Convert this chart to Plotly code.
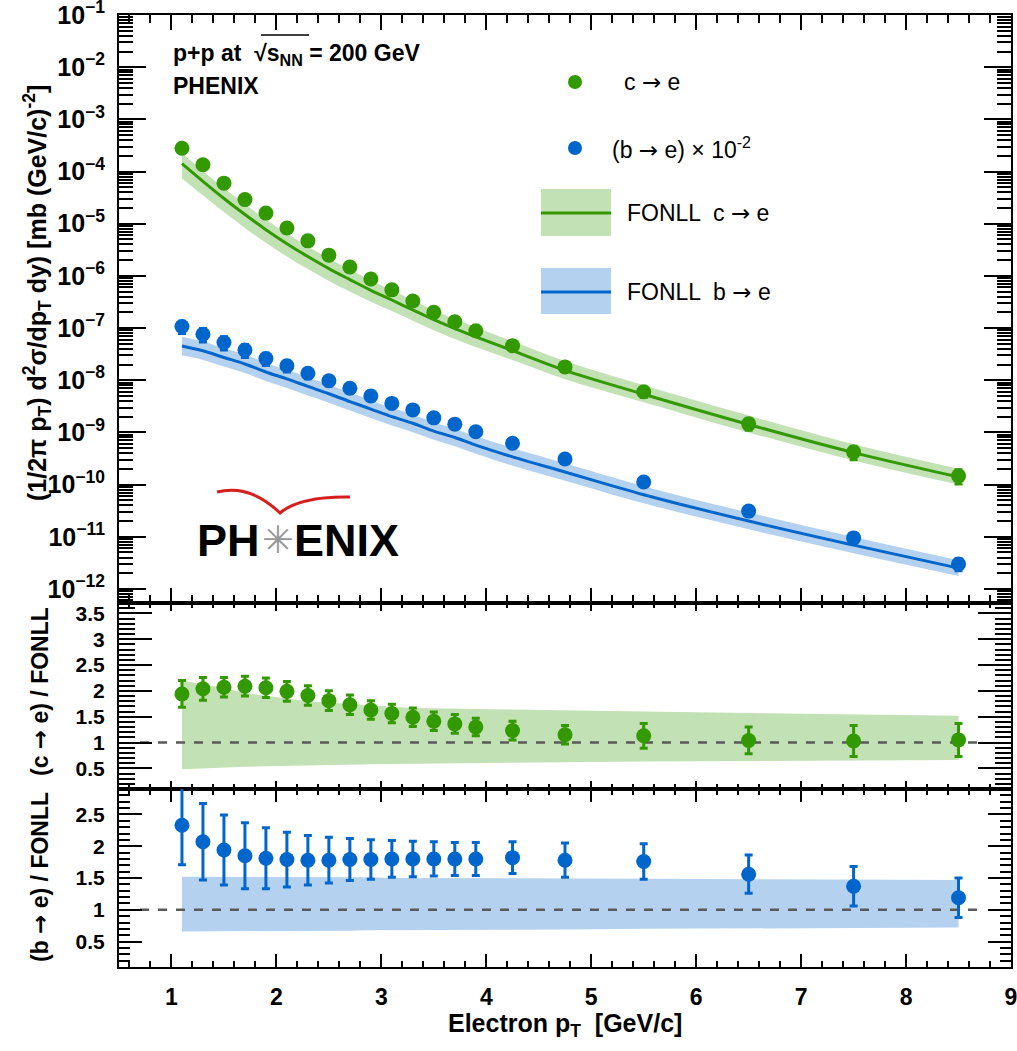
import numpy as np
import plotly.graph_objects as go

# ---------------- data ----------------
pt = [1.1, 1.3, 1.5, 1.7, 1.9, 2.1, 2.3, 2.5, 2.7, 2.9, 3.1, 3.3, 3.5, 3.7, 3.9,
      4.25, 4.75, 5.5, 6.5, 7.5, 8.5]

c_data = [2.8e-4, 1.35e-4, 6.0e-5, 2.9e-5, 1.6e-5, 8.3e-6, 4.7e-6, 2.5e-6, 1.48e-6,
          8.7e-7, 5.4e-7, 3.3e-7, 2.0e-7, 1.32e-7, 8.9e-8, 4.6e-8, 1.8e-8, 6.0e-9,
          1.46e-9, 4.2e-10, 1.47e-10]
b_data = [1.07e-7, 7.6e-8, 5.3e-8, 3.8e-8, 2.6e-8, 1.9e-8, 1.36e-8, 9.8e-9, 7.0e-9,
          5.0e-9, 3.6e-9, 2.7e-9, 1.9e-9, 1.44e-9, 1.03e-9, 6.2e-10, 3.1e-10,
          1.12e-10, 3.1e-11, 9.5e-12, 3.0e-12]

fonll_c = [1.42e-4, 6.5e-5, 3.05e-5, 1.5e-5, 7.7e-6, 4.15e-6, 2.35e-6, 1.38e-6, 8.5e-7,
           5.3e-7, 3.45e-7, 2.22e-7, 1.45e-7, 9.8e-8, 6.8e-8, 3.7e-8, 1.55e-8, 5.4e-9,
           1.42e-9, 4.1e-10, 1.4e-10]
fonll_c_hi = [2.25e-4, 1.03e-4, 4.8e-5, 2.37e-5, 1.21e-5, 6.5e-6, 3.68e-6, 2.15e-6,
              1.32e-6, 8.2e-7, 5.3e-7, 3.4e-7, 2.2e-7, 1.49e-7, 1.03e-7, 5.6e-8,
              2.33e-8, 8.0e-9, 2.1e-9, 5.9e-10, 2.0e-10]
fonll_c_lo = [7.4e-5, 3.5e-5, 1.67e-5, 8.3e-6, 4.3e-6, 2.35e-6, 1.35e-6, 8.0e-7,
              5.0e-7, 3.2e-7, 2.12e-7, 1.38e-7, 9.1e-8, 6.2e-8, 4.35e-8, 2.43e-8,
              1.05e-8, 3.8e-9, 1.0e-9, 2.9e-10, 1.0e-10]

fonll_b = [4.55e-8, 3.67e-8, 2.73e-8, 2.05e-8, 1.44e-8, 1.06e-8, 7.6e-9, 5.5e-9, 3.9e-9,
           2.8e-9, 2.0e-9, 1.5e-9, 1.06e-9, 8.0e-10, 5.7e-10, 3.4e-10, 1.74e-10,
           6.4e-11, 2.0e-11, 6.9e-12, 2.5e-12]
fonll_b_hi = [6.8e-8, 5.5e-8, 4.1e-8, 3.1e-8, 2.15e-8, 1.58e-8, 1.13e-8, 8.2e-9, 5.8e-9,
              4.15e-9, 2.96e-9, 2.2e-9, 1.56e-9, 1.18e-9, 8.4e-10, 5.0e-10, 2.55e-10,
              9.3e-11, 2.9e-11, 9.9e-12, 3.55e-12]
fonll_b_lo = [3.0e-8, 2.45e-8, 1.83e-8, 1.37e-8, 9.7e-9, 7.1e-9, 5.1e-9, 3.7e-9, 2.62e-9,
              1.89e-9, 1.35e-9, 1.01e-9, 7.2e-10, 5.4e-10, 3.9e-10, 2.3e-10, 1.19e-10,
              4.4e-11, 1.39e-11, 4.8e-12, 1.76e-12]

ratio_c = [1.94, 2.04, 2.07, 2.09, 2.06, 1.99, 1.91, 1.81, 1.73, 1.63, 1.56, 1.49, 1.41,
           1.36, 1.30, 1.23, 1.15, 1.13, 1.04, 1.03, 1.05]
ratio_c_err = [0.26, 0.22, 0.19, 0.19, 0.19, 0.19, 0.19, 0.19, 0.19, 0.18, 0.18, 0.18,
               0.18, 0.18, 0.17, 0.18, 0.18, 0.24, 0.26, 0.30, 0.32]
band_c_hi = [2.2, 2.13, 2.05, 1.96, 1.9, 1.85, 1.8, 1.77, 1.74, 1.71, 1.69, 1.67, 1.66,
             1.66, 1.65, 1.64, 1.62, 1.6, 1.57, 1.54, 1.52]
band_c_lo = [0.48, 0.5, 0.52, 0.53, 0.54, 0.55, 0.56, 0.57, 0.575, 0.58, 0.585, 0.59,
             0.595, 0.6, 0.605, 0.61, 0.62, 0.63, 0.64, 0.65, 0.66]

ratio_b = [2.33, 2.07, 1.94, 1.85, 1.81, 1.79, 1.78, 1.78, 1.79, 1.79, 1.80, 1.80, 1.80,
           1.80, 1.80, 1.82, 1.78, 1.76, 1.56, 1.37, 1.19]
ratio_b_err = [0.62, 0.60, 0.55, 0.52, 0.48, 0.43, 0.39, 0.36, 0.33, 0.31, 0.29, 0.28,
               0.27, 0.26, 0.26, 0.25, 0.27, 0.28, 0.30, 0.31, 0.31]
band_b_hi = [1.52, 1.52, 1.52, 1.52, 1.52, 1.51, 1.51, 1.51, 1.51, 1.51, 1.5, 1.5, 1.5,
             1.5, 1.5, 1.5, 1.49, 1.49, 1.48, 1.48, 1.47]
band_b_lo = [0.66, 0.66, 0.66, 0.66, 0.67, 0.67, 0.67, 0.67, 0.67, 0.68, 0.68, 0.68,
             0.68, 0.68, 0.69, 0.69, 0.69, 0.70, 0.71, 0.71, 0.72]

unity_x = [0.7, 8.7]
unity_y = [1, 1]

# ---------------- style ----------------
GREEN = "rgb(51,153,0)"
BLUE = "rgb(0,102,204)"
GREEN_BAND = "rgb(194,225,180)"
BLUE_BAND = "rgb(180,210,240)"
FONT = "Liberation Sans, Arial, Helvetica, sans-serif"
ARROW = "<span style='font-family:DejaVu Sans;font-weight:normal'>→</span>"
ARROW_B = "<span style='font-family:DejaVu Sans'>→</span>"

W, H = 1017, 1051
L, R, T, B = 119, 6, 15, 84
PW, PH = W - L - R, H - T - B


def px(x):
    return (x - L) / PW


def py(y):
    return (H - B - y) / PH


# top-panel error bars from relative ratio uncertainties
c_err_abs = (np.array(c_data) * np.array(ratio_c_err) / np.array(ratio_c)).tolist()
b_err_abs = (np.array(b_data) * np.array(ratio_b_err) / np.array(ratio_b)).tolist()

fig = go.Figure()


def band(x, lo, hi, color, xa, ya, shape="linear"):
    fig.add_trace(go.Scatter(x=x, y=lo, mode="lines", line=dict(width=0, color=color, shape=shape),
                             xaxis=xa, yaxis=ya, showlegend=False, hoverinfo="skip"))
    fig.add_trace(go.Scatter(x=x, y=hi, mode="lines", line=dict(width=0, color=color, shape=shape),
                             fill="tonexty", fillcolor=color, xaxis=xa, yaxis=ya,
                             showlegend=False, hoverinfo="skip"))


def points(x, y, err, color, xa, ya):
    fig.add_trace(go.Scatter(
        x=x, y=y, mode="markers", xaxis=xa, yaxis=ya, showlegend=False,
        marker=dict(color=color, size=15, line=dict(width=0)),
        error_y=dict(type="data", array=err, color=color, thickness=3, width=4)))


# top panel
band(pt, fonll_c_lo, fonll_c_hi, GREEN_BAND, "x", "y", "spline")
band(pt, fonll_b_lo, fonll_b_hi, BLUE_BAND, "x", "y", "spline")
fig.add_trace(go.Scatter(x=pt, y=fonll_c, mode="lines",
                         line=dict(color=GREEN, width=3, shape="spline"),
                         xaxis="x", yaxis="y", showlegend=False))
fig.add_trace(go.Scatter(x=pt, y=fonll_b, mode="lines",
                         line=dict(color=BLUE, width=3, shape="spline"),
                         xaxis="x", yaxis="y", showlegend=False))
points(pt, c_data, c_err_abs, GREEN, "x", "y")
points(pt, b_data, b_err_abs, BLUE, "x", "y")

# middle panel
band(pt, band_c_lo, band_c_hi, GREEN_BAND, "x2", "y2")
fig.add_trace(go.Scatter(x=unity_x, y=unity_y, mode="lines",
                         line=dict(color="rgb(90,90,90)", width=2.5, dash="dash"),
                         xaxis="x2", yaxis="y2", showlegend=False))
points(pt, ratio_c, ratio_c_err, GREEN, "x2", "y2")

# bottom panel
band(pt, band_b_lo, band_b_hi, BLUE_BAND, "x3", "y3")
fig.add_trace(go.Scatter(x=unity_x, y=unity_y, mode="lines",
                         line=dict(color="rgb(90,90,90)", width=2.5, dash="dash"),
                         xaxis="x3", yaxis="y3", showlegend=False))
points(pt, ratio_b, ratio_b_err, BLUE, "x3", "y3")

xtickfont = dict(family=FONT, size=23, color="black", weight="bold")

d_top = [py(603), 1]
d_mid = [py(789), py(603)]
d_bot = [0, py(789)]


def xaxis(anchor, dom_show, major, minor):
    return dict(anchor=anchor, domain=[0, 1], range=[0.5, 9], dtick=1, tick0=0,
                ticks="inside", ticklen=major, tickwidth=2, tickcolor="black",
                minor=dict(ticks="inside", ticklen=minor, tickwidth=1.5,
                           tickcolor="black", dtick=0.2, showgrid=False),
                showline=True, linecolor="black", linewidth=2, mirror="allticks",
                showgrid=False, zeroline=False, showticklabels=dom_show,
                tickfont=xtickfont, ticklabelstandoff=8, ticklabeloverflow="allow",
                automargin=False)


def yaxis(anchor, dom, rng, dtick, mdtick, major, minor, log=False, fsize=21):
    d = dict(anchor=anchor, domain=dom, range=rng, ticks="inside", ticklen=major,
             tickwidth=2, tickcolor="black", showline=True, linecolor="black",
             linewidth=2, mirror="allticks", showgrid=False, zeroline=False,
             tickfont=dict(family=FONT, size=fsize, color="black", weight="bold"),
             ticklabelstandoff=8, ticklabeloverflow="allow", automargin=False)
    if log:
        d.update(type="log", dtick=1, exponentformat="power",
                 minor=dict(ticks="inside", ticklen=minor, tickwidth=1.5,
                            tickcolor="black", showgrid=False))
    else:
        d.update(dtick=dtick, tick0=0,
                 minor=dict(ticks="inside", ticklen=minor, tickwidth=1.5,
                            tickcolor="black", dtick=mdtick, showgrid=False))
    return d


fig.update_layout(
    width=W, height=H, margin=dict(l=L, r=R, t=T, b=B, autoexpand=False),
    paper_bgcolor="white", plot_bgcolor="white", showlegend=False,
    font=dict(family=FONT, color="black"),
    xaxis=xaxis("y", False, 15, 8),
    xaxis2=xaxis("y2", False, 8, 5),
    xaxis3=xaxis("y3", True, 13, 6),
    yaxis=yaxis("x", d_top, [-12.27, -0.999], None, None, 27, 14, log=True, fsize=20),
    yaxis2=yaxis("x2", d_mid, [0.1, 3.7], 0.5, 0.1, 33, 16),
    yaxis3=yaxis("x3", d_bot, [0.1, 2.9], 0.5, 0.1, 23, 11),
)
fig.update_layout(xaxis2=dict(matches="x"), xaxis3=dict(matches="x"))

ann = []
bold = dict(family=FONT, size=23, color="black", weight="bold")
title_font = dict(family=FONT, size=23, color="black", weight="bold")
# axis titles
ann.append(dict(x=px(37), y=py(293), xref="paper", yref="paper", textangle=-90,
                text="(1/2π p<sub>T</sub>) d<sup>2</sup>σ/dp<sub>T</sub> dy) [mb (GeV/c)<sup>-2</sup>]",
                showarrow=False, font=dict(family=FONT, size=25, color="black", weight="bold"),
                xanchor="center", yanchor="middle"))
ann.append(dict(x=px(40), y=py(692), xref="paper", yref="paper", textangle=-90,
                text="(c " + ARROW_B + " e) / FONLL", showarrow=False, font=title_font,
                xanchor="center", yanchor="middle"))
ann.append(dict(x=px(40), y=py(877), xref="paper", yref="paper", textangle=-90,
                text="(b " + ARROW_B + " e) / FONLL", showarrow=False, font=title_font,
                xanchor="center", yanchor="middle"))
ann.append(dict(x=px(565), y=py(1025), xref="paper", yref="paper",
                text="Electron p<sub>T</sub>  [GeV/c]", showarrow=False,
                font=dict(family=FONT, size=25, color="black", weight="bold"),
                xanchor="center", yanchor="middle"))
# labels
ann.append(dict(x=px(171), y=py(55), xref="paper", yref="paper",
                text="p+p at  √s<sub>NN</sub> = 200 GeV", showarrow=False, font=bold,
                xanchor="left", yanchor="middle"))
ann.append(dict(x=px(171), y=py(86), xref="paper", yref="paper",
                text="PHENIX", showarrow=False, font=bold,
                xanchor="left", yanchor="middle"))
# legend
reg = dict(family=FONT, size=23, color="black")
ann.append(dict(x=px(622), y=py(82), xref="paper", yref="paper", text="c " + ARROW + " e",
                showarrow=False, font=reg, xanchor="left", yanchor="middle"))
ann.append(dict(x=px(610), y=py(148), xref="paper", yref="paper",
                text="(b " + ARROW + " e) × 10<sup>-2</sup>",
                showarrow=False, font=reg, xanchor="left", yanchor="middle"))
ann.append(dict(x=px(625), y=py(213), xref="paper", yref="paper",
                text="FONLL  c " + ARROW + " e",
                showarrow=False, font=reg, xanchor="left", yanchor="middle"))
ann.append(dict(x=px(625), y=py(292), xref="paper", yref="paper",
                text="FONLL  b " + ARROW + " e",
                showarrow=False, font=reg, xanchor="left", yanchor="middle"))
# logo text
logo = dict(family=FONT, size=45, color="black", weight="bold")
ann.append(dict(x=px(262), y=py(540), xref="paper", yref="paper", text="PH",
                showarrow=False, font=logo, xanchor="right", yanchor="middle"))
ann.append(dict(x=px(292), y=py(540), xref="paper", yref="paper", text="ENIX",
                showarrow=False, font=logo, xanchor="left", yanchor="middle"))
ann.append(dict(x=px(278), y=py(540), xref="paper", yref="paper", text="✳",
                showarrow=False, font=dict(family="DejaVu Sans", size=38, color="rgb(150,150,150)"),
                xanchor="center", yanchor="middle"))

shapes = []
# overline for sqrt
shapes.append(dict(type="line", xref="paper", yref="paper", x0=px(261), x1=px(309),
                   y0=py(35), y1=py(35), line=dict(color="black", width=1.5)))
# legend markers
for (cx, cy, col) in [(575, 82, GREEN), (575, 148, BLUE)]:
    shapes.append(dict(type="circle", xref="paper", yref="paper",
                       x0=px(cx - 7), x1=px(cx + 7), y0=py(cy + 7), y1=py(cy - 7),
                       fillcolor=col, line=dict(width=0)))
# legend boxes
for (y0, y1, yl, fc, lc) in [(189, 236, 213, GREEN_BAND, GREEN), (268, 314, 292, BLUE_BAND, BLUE)]:
    shapes.append(dict(type="rect", xref="paper", yref="paper", x0=px(541), x1=px(611),
                       y0=py(y1), y1=py(y0), fillcolor=fc, line=dict(width=0)))
    shapes.append(dict(type="line", xref="paper", yref="paper", x0=px(541), x1=px(611),
                       y0=py(yl), y1=py(yl), line=dict(color=lc, width=3)))
# red logo arc
path = ("M {:.4f},{:.4f} Q {:.4f},{:.4f} {:.4f},{:.4f} Q {:.4f},{:.4f} {:.4f},{:.4f}".format(
    px(217), py(492), px(250), py(484), px(280), py(513),
    px(300), py(496), px(350), py(497)))
shapes.append(dict(type="path", xref="paper", yref="paper", path=path,
                   line=dict(color="rgb(215,30,30)", width=3)))

fig.update_layout(annotations=ann, shapes=shapes)
fig.write_html("out.html")
